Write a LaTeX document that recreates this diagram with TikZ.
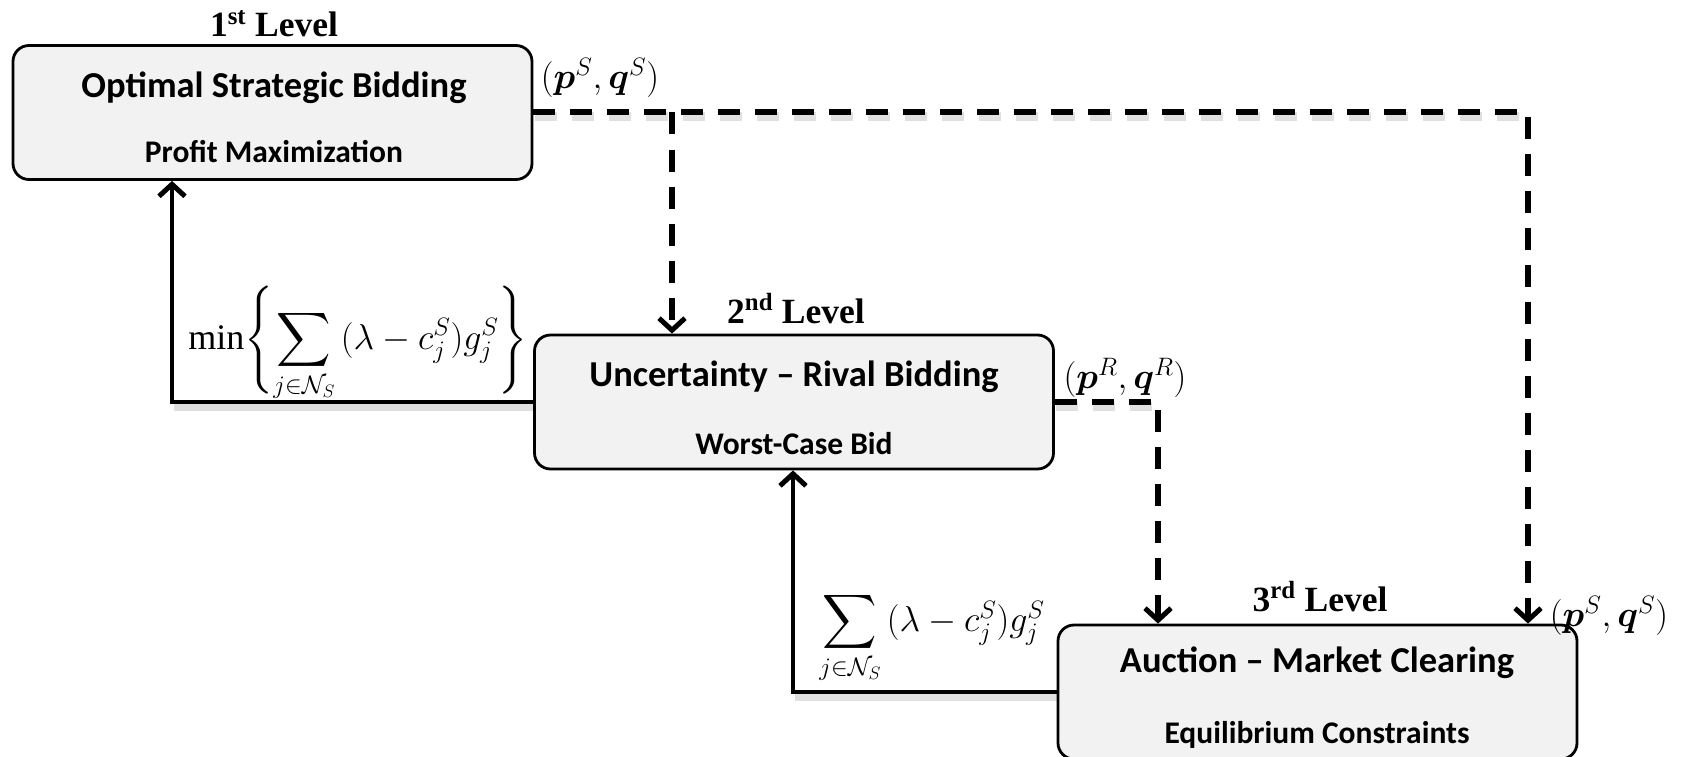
\RequirePackage{fix-cm}
\documentclass[tikz,border=0pt]{standalone}
\usepackage{amsmath}
\usepackage{bm}
\usepackage{graphicx}
\usepackage{fontspec}
\setmainfont{Liberation Serif}
\newfontfamily\boxfont[Ligatures=TeX]{Carlito}
\usetikzlibrary{arrows.meta}

% large operators and delimiters follow the font size
\DeclareFontFamily{OMX}{cmex}{}
\DeclareFontShape{OMX}{cmex}{m}{n}{<-> cmex10}{}

\definecolor{boxfill}{HTML}{F2F2F2}
\newcommand{\bigsum}{\mathop{\vcenter{\hbox{\scalebox{1.05}{$\displaystyle\sum$}}}}\limits}

\tikzset{
  stage/.style={draw, line width=2.8pt, rounded corners=16pt, fill=boxfill,
    minimum width=519pt, minimum height=134pt, inner sep=0pt},
  headline/.style={font=\boxfont\bfseries\fontsize{36.5}{40}\selectfont, inner sep=0pt},
  subline/.style={font=\boxfont\bfseries\fontsize{31.5}{34}\selectfont, inner sep=0pt},
  levellabel/.style={font=\bfseries\fontsize{35.5}{40}\selectfont, inner sep=0pt, anchor=base},
  mathlabel/.style={font=\fontsize{36}{42}\selectfont, inner sep=0pt},
  tip/.style={-{Straight Barb[length=12pt,width=26pt,line width=5pt]}},
  dashline/.style={line width=6pt, dash pattern=on 22pt off 15pt},
  solidline/.style={line width=4.5pt},
  softshadow/.style={draw=black, opacity=0.12, line width=9pt,
    transform canvas={shift={(1.5pt,-4pt)}}},
}

\begin{document}
\begin{tikzpicture}[x=1pt,y=-1pt]
  \useasboundingbox (0,0) rectangle (1686,757);

  % the three levels
  \node[stage] (b1) at (272.5,112.5) {};
  \node[stage] (b2) at (794,402) {};
  \node[stage] (b3) at (1317.5,692) {};

  \node[headline] (t1) at (274,88) {Optimal Strategic Bidding};
  \node[subline]  (s1) at (274,152) {Profit Maximization};
  \node[headline] (t2) at (794,377) {Uncertainty – Rival Bidding};
  \node[subline]  (s2) at (794,444) {Worst-Case Bid};
  \node[headline] (t3) at (1317,663) {Auction – Market Clearing};
  \node[subline]  (s3) at (1317,735) {Equilibrium Constraints};

  \node[levellabel] (lv1) at (274,37) {1\textsuperscript{st} Level};
  \node[levellabel] (lv2) at (796,323) {2\textsuperscript{nd} Level};
  \node[levellabel] (lv3) at (1320,611) {3\textsuperscript{rd} Level};

  % corner points of the connectors
  \coordinate (tr) at (1528,112.5);
  \coordinate (br) at (672,112.5);
  \coordinate (mr) at (1158,402);
  \coordinate (l1) at (172,402);
  \coordinate (l2) at (793,692);

  % soft shadows under the horizontal runs
  \path[softshadow, dash pattern=on 22pt off 15pt] (b1.east) -- (tr);
  \path[softshadow, dash pattern=on 22pt off 15pt] (b2.east) -- (mr);
  \path[softshadow] (b2.west) -- (l1);
  \path[softshadow] (b3.west) -- (l2);

  % bids passed downwards
  \draw[dashline, tip] (b1.east) -- (tr) -- (tr |- b3.north);
  \draw[dashline, tip] (br) -- (br |- b2.north);
  \draw[dashline, tip] (b2.east) -- (mr) -- (mr |- b3.north);

  % profits passed upwards
  \draw[solidline, tip] (b2.west) -- (l1) -- (l1 |- b1.south);
  \draw[solidline, tip] (b3.west) -- (l2) -- (l2 |- b2.south);

  % connector labels
  \node[mathlabel] (ps1) at (600,78) {$(\bm{p}^S,\bm{q}^S)$};
  \node[mathlabel] (pr)  at (1125,378) {$(\bm{p}^R,\bm{q}^R)$};
  \node[mathlabel] (ps2) at (1609,616) {$(\bm{p}^S,\bm{q}^S)$};
  \node[mathlabel] (obj1) at (358,344)
    {$\min\Biggl\{\bigsum_{j\in\mathcal{N}_S}\,(\lambda-c_j^S)g_j^S\Biggr\}$};
  \node[mathlabel] (obj2) at (932,638)
    {$\bigsum_{j\in\mathcal{N}_S}\,(\lambda-c_j^S)g_j^S$};
\end{tikzpicture}
\end{document}
